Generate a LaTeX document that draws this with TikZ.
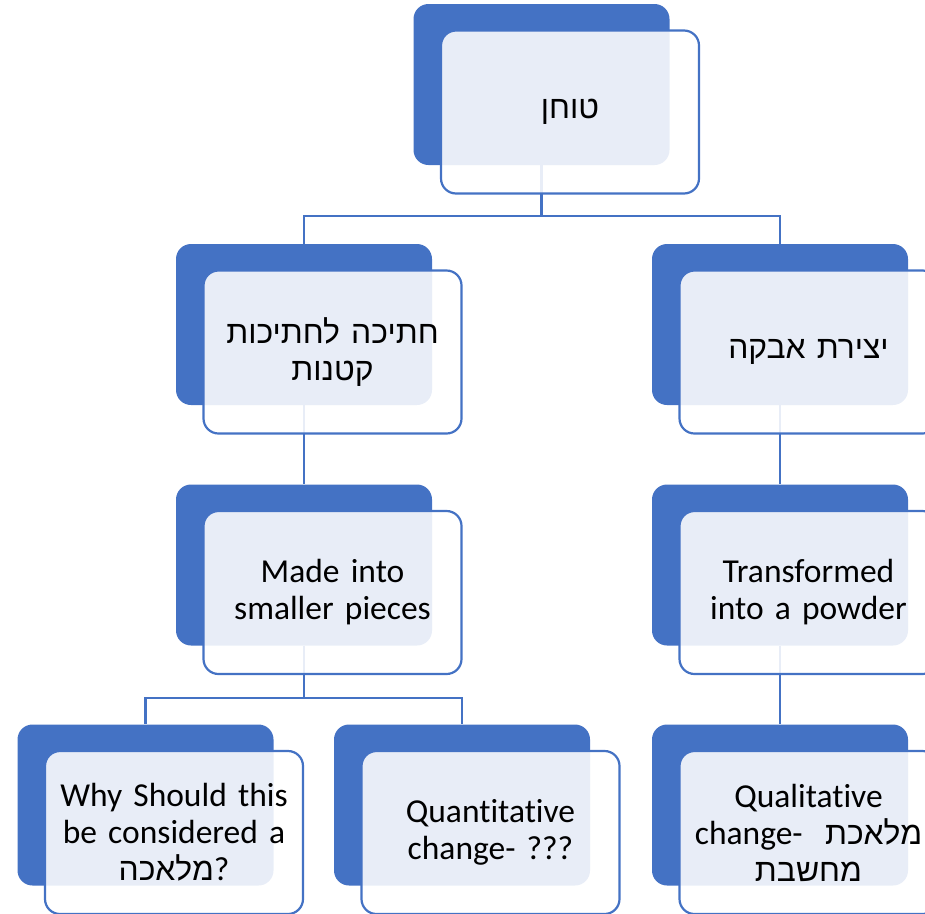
\documentclass[tikz,border=0pt]{standalone}
\usepackage{fontspec}
\setmainfont[Ligatures={NoCommon,NoContextual}]{Carlito}
\newfontfamily\heb[Script=Hebrew,Scale=0.95]{Liberation Sans}
\TeXXeTstate=1
\definecolor{sablue}{HTML}{4472C4}
\tikzset{
  backbox/.style={rounded corners=15pt, fill=sablue, draw=none, minimum width=256pt, minimum height=161pt, inner sep=0pt},
  frontbox/.style={rounded corners=15pt, draw=sablue, line width=2.2pt, fill=white, fill opacity=0.88, text opacity=1, draw opacity=1, minimum width=258pt, minimum height=163pt, inner sep=0pt, align=center, text width=250pt, font=\fontsize{33.5}{37}\selectfont},
  conn/.style={draw=sablue, line width=2.4pt}
}
\begin{document}
\begin{tikzpicture}[x=1pt,y=-1pt]
\useasboundingbox (0,0) rectangle (925,913);
\clip (0,0) rectangle (925,913);
% back boxes
\node[backbox] (A) at (541.5,84.5) {};
\node[backbox] (B) at (304,324.5) {};
\node[backbox] (C) at (780,324.5) {};
\node[backbox] (D) at (304,565) {};
\node[backbox] (E) at (780,565) {};
\node[backbox] (F) at (145.5,805) {};
\node[backbox] (G) at (462,805) {};
\node[backbox] (H) at (780,805) {};
% connectors
\coordinate (j1) at (541.5,216);
\coordinate (j2) at (304,698);
\draw[conn] (A.south) -- (j1) -| (B.north);
\draw[conn] (j1) -| (C.north);
\draw[conn] (B.south) -- (D.north);
\draw[conn] (C.south) -- (E.north);
\draw[conn] (D.south) -- (j2) -| (F.north);
\draw[conn] (j2) -| (G.north);
\draw[conn] (E.south) -- (H.north);
% front boxes
\node[frontbox] (fA) at ([shift={(28.5,27.5)}]A.center) {{\heb\beginR טוחן\endR}};
\node[frontbox] (fB) at ([shift={(28.5,27.5)}]B.center) {{\heb\beginR חתיכה לחתיכות\endR}\\{\heb\beginR קטנות\endR}};
\node[frontbox] (fC) at ([shift={(28.5,27.5)}]C.center) {{\heb\beginR יצירת אבקה\endR}};
\node[frontbox] (fD) at ([shift={(28.5,27.5)}]D.center) {Made into\\smaller pieces};
\node[frontbox] (fE) at ([shift={(28.5,27.5)}]E.center) {Transformed\\into a powder};
\node[frontbox] (fF) at ([shift={(28.5,27.5)}]F.center) {Why Should this\\be considered a\\{\heb\beginR מלאכה\endR}?};
\node[frontbox] (fG) at ([shift={(28.5,27.5)}]G.center) {Quantitative\\change- ???};
\node[frontbox] (fH) at ([shift={(28.5,27.5)}]H.center) {Qualitative\\change-\ \ {\heb\beginR מלאכת\endR}\\{\heb\beginR מחשבת\endR}};
\end{tikzpicture}
\end{document}
